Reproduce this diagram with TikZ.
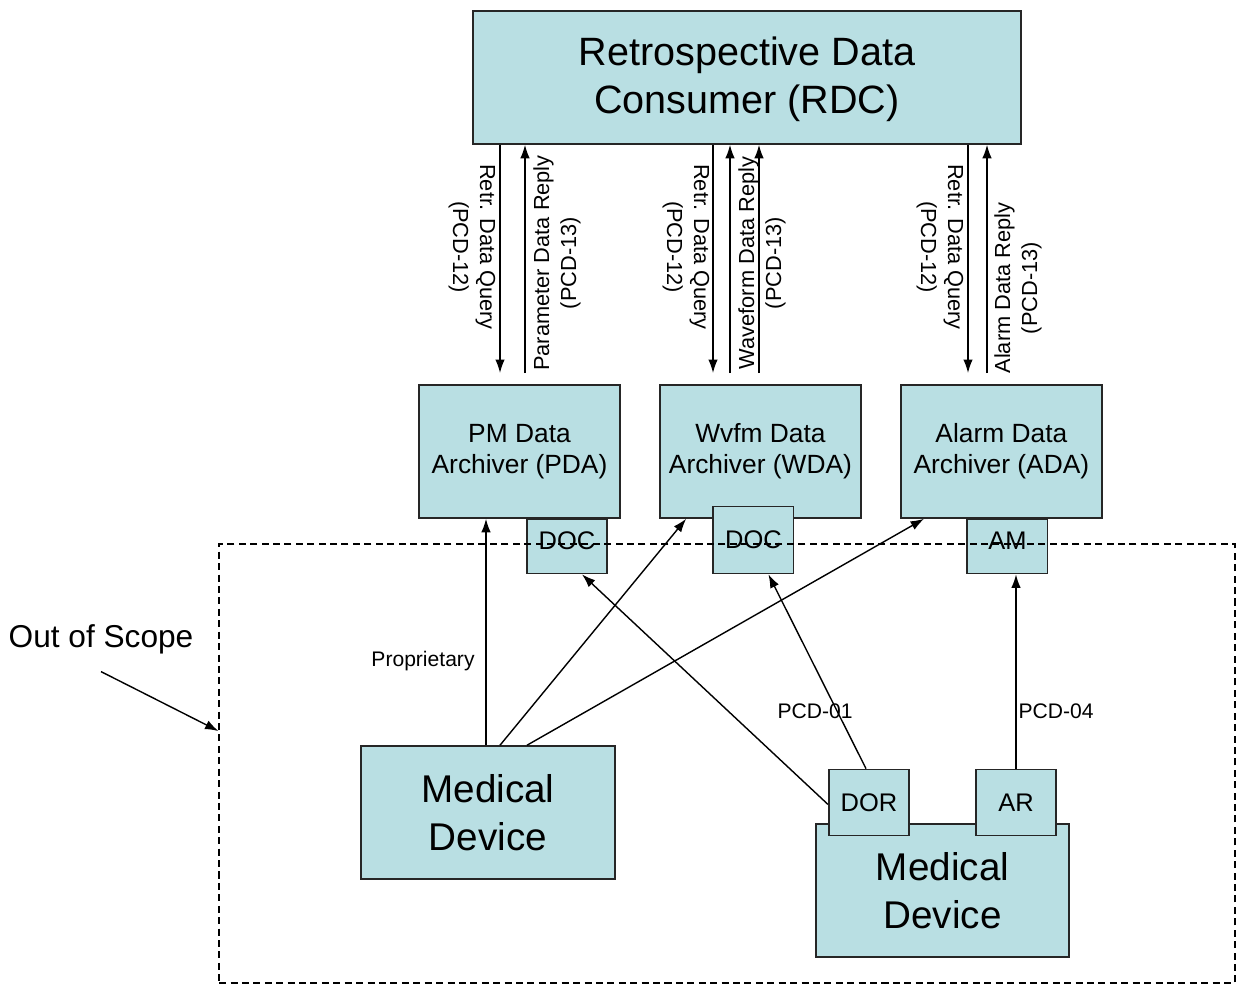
\documentclass[tikz,border=0pt]{standalone}
\usepackage{fontspec}
\setmainfont{Liberation Sans}
\usetikzlibrary{positioning,arrows.meta}
\definecolor{boxfill}{RGB}{185,223,227}
\newcommand{\fsz}[2]{\fontsize{#1}{#2}\selectfont}

\tikzset{
  box/.style={draw=black!85, fill=boxfill, line width=0.9pt, inner sep=0pt, align=center},
  bigbox/.style={box, minimum width=5.07cm, minimum height=2.66cm, font=\fsz{22}{27}},
  archiver/.style={box, minimum width=4.02cm, minimum height=2.66cm, font=\fsz{15}{17.6}},
  subbox/.style={box, minimum width=1.61cm, minimum height=1.08cm, font=\fsz{14.5}{17}},
  msg/.style={->, line width=0.8pt},
  msglbl/.style={align=center, inner sep=0pt, font=\fsz{12.4}{15.3}},
  lbl/.style={inner sep=0pt, font=\fsz{12}{14}},
  >={Latex[length=2.7mm,width=1.9mm]}
}

\begin{document}
\begin{tikzpicture}[x=0.02cm, y=-0.02cm]
  \useasboundingbox (0,0) rectangle (1237,985);

  % consumer and archivers
  \node[box, minimum width=10.96cm, minimum height=2.66cm, font=\fsz{22.5}{27}, text depth=0.1cm] (rdc) at (747,77.5)
    {Retrospective Data\\Consumer (RDC)};
  \node[archiver] (pda) at (519.5,451.5) {PM Data\\Archiver (PDA)};
  \node[archiver, right=0.768cm of pda] (wda) {Wvfm Data\\Archiver (WDA)};
  \node[archiver, right=0.768cm of wda] (ada) {Alarm Data\\Archiver (ADA)};

  \node[subbox, below=0pt of pda.south, xshift=0.95cm, text depth=0.24cm] (docP) {DOC};
  \node[subbox, below=-0.26cm of wda.south, xshift=-0.14cm, minimum height=1.34cm] (docW) {DOC};
  \node[subbox, below=0pt of ada.south, xshift=0.12cm, text depth=0.24cm] (am) {AM};

  % out of scope region
  \node[draw, dashed, dash pattern=on 4pt off 2.5pt, line width=0.7pt, inner sep=0pt,
    minimum width=20.32cm, minimum height=8.78cm] (scope) at (727,763.5) {};
  \node[inner sep=0pt, font=\fsz{18}{21}] (scopelbl) at (101,639) {Out of Scope};
  \draw[->, line width=0.8pt] ([yshift=-0.35cm]scopelbl.south) -- ([yshift=0.65cm]scope.west);

  % devices
  \node[bigbox] (md1) at (488,812.5) {Medical\\Device};
  \node[bigbox] (md2) at (942.5,890.5) {Medical\\Device};
  \node[subbox, above=-0.26cm of md2.north, xshift=-1.47cm, minimum height=1.32cm] (dor) {DOR};
  \node[subbox, above=-0.26cm of md2.north, xshift=1.47cm, minimum height=1.32cm] (ar) {AR};

  % query / reply pairs
  \coordinate (qP) at (500,373);
  \coordinate (rP) at (525,373);
  \coordinate (qW) at (713,373);
  \coordinate (rW) at (730,373);
  \coordinate (rW2) at (759,373);
  \coordinate (qA) at (968,373);
  \coordinate (rA) at (987,373);
  \draw[msg] (qP |- rdc.south) -- (qP);
  \draw[msg] (rP) -- (rP |- rdc.south);
  \draw[msg] (qW |- rdc.south) -- (qW);
  \draw[msg] (rW) -- (rW |- rdc.south);
  \draw[msg] (rW2) -- (rW2 |- rdc.south);
  \draw[msg] (qA |- rdc.south) -- (qA);
  \draw[msg] (rA) -- (rA |- rdc.south);

  \node[msglbl, rotate=-90] (lqP) at (472,247) {Retr. Data Query\\(PCD-12)};
  \node[msglbl, rotate=90] (lrP) at (557,263) {Parameter Data Reply\\(PCD-13)};
  \node[msglbl, rotate=-90] (lqW) at (686,247) {Retr. Data Query\\(PCD-12)};
  \node[msglbl, rotate=90] (lrW) at (762,263) {Waveform Data Reply\\(PCD-13)};
  \node[msglbl, rotate=-90] (lqA) at (940,247) {Retr. Data Query\\(PCD-12)};
  \node[msglbl, rotate=90] (lrA) at (1018,288) {Alarm Data Reply\\(PCD-13)};

  % device connections
  \draw[msg] ([xshift=-0.04cm]md1.north) -- ([xshift=-0.04cm]md1.north |- pda.south);
  \draw[msg] ([xshift=0.24cm]md1.north) -- ([xshift=0.54cm]wda.south west);
  \draw[msg] ([xshift=0.78cm]md1.north) -- ([xshift=0.48cm]ada.south west);
  \draw[msg] ([yshift=-0.04cm]dor.west) -- ([xshift=0.3cm]docP.south);
  \draw[msg] ([xshift=-0.06cm]dor.north) -- ([xshift=0.3cm]docW.south);
  \draw[msg] (ar.north) -- (ar.north |- am.south);

  \node[lbl] (prop) at (423,661) {Proprietary};
  \node[lbl] (p01) at (815,711) {PCD-01};
  \node[lbl] (p04) at (1056,711) {PCD-04};
\end{tikzpicture}
\end{document}
